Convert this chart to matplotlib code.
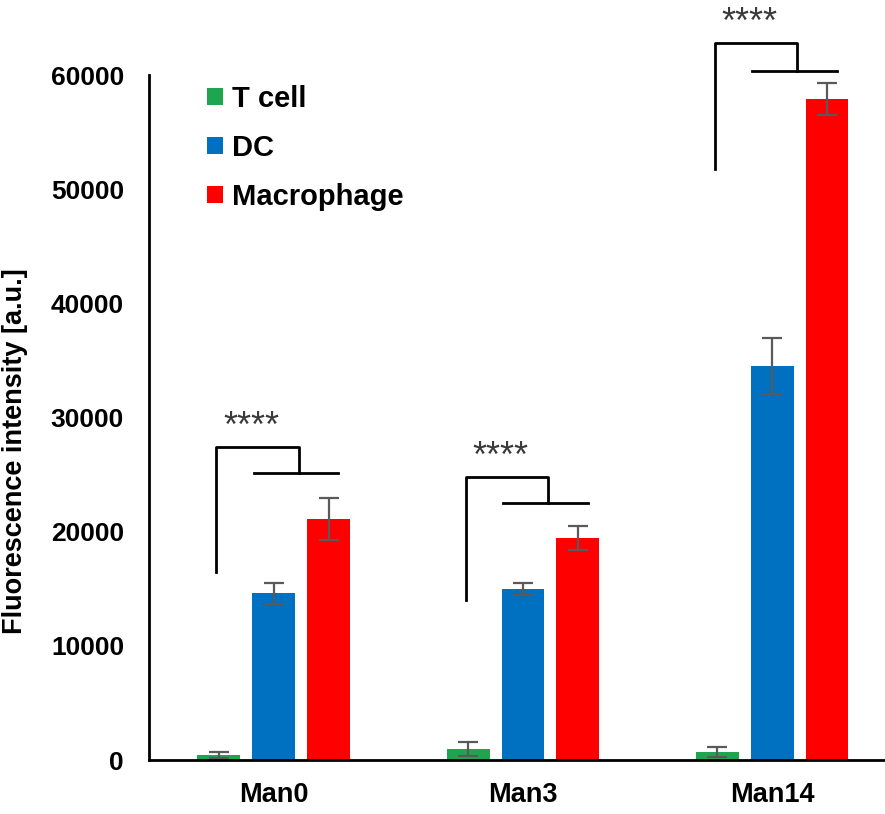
import matplotlib.pyplot as plt
import numpy as np

plt.rcParams['font.family'] = ['Liberation Sans', 'DejaVu Sans']

categories = ['Man0', 'Man3', 'Man14']
series = ['T cell', 'DC', 'Macrophage']
colors = ['#1DA64F', '#0070C0', '#FF0000']

t_cell = [440, 960, 700]
dc = [14600, 14970, 34500]
macrophage = [21100, 19450, 57900]
t_cell_err = [300, 600, 450]
dc_err = [950, 550, 2450]
macrophage_err = [1850, 1050, 1400]

# significance bracket levels per group (upper bar, left leg bottom, lower bar)
bracket_top = [27400, 24800, 62800]
bracket_leg = [16450, 14000, 51750]
bracket_low = [25100, 22500, 60350]
sig_labels = ['****', '****', '****']

values = [t_cell, dc, macrophage]
errors = [t_cell_err, dc_err, macrophage_err]

fig = plt.figure(figsize=(8.85, 8.14), dpi=100)
ax = fig.add_axes([0.1684, 0.0663, 0.845, 0.8415])

x = np.arange(len(categories))
width = 0.172
offset = 0.22

for i, (name, vals, errs, c) in enumerate(zip(series, values, errors, colors)):
    ax.bar(x + (i - 1) * offset, vals, width, color=c, label=name,
           yerr=errs, error_kw=dict(ecolor='#5a5a5a', elinewidth=1.6,
                                    capsize=7, capthick=1.6))

for i in range(len(categories)):
    xl, xr = x[i] - 0.23, x[i] + 0.10
    ax.plot([xl, xl, xr, xr], [bracket_leg[i], bracket_top[i], bracket_top[i], bracket_low[i]],
            color='black', lw=2, clip_on=False)
    ax.plot([x[i] - 0.08, x[i] + 0.26], [bracket_low[i], bracket_low[i]],
            color='black', lw=2, clip_on=False)
    ax.text(x[i] - 0.09, bracket_top[i] + 1700, sig_labels[i], ha='center', va='center',
            fontsize=26, color='#3a3a3a', clip_on=False)

ax.set_xlim(-0.5, 2.5)
ax.set_ylim(0, 60000)
ax.set_yticks(np.arange(0, 60001, 10000))
ax.set_xticks(x)
ax.set_xticklabels(categories, fontsize=19.5, fontweight='bold')
for lab in ax.get_yticklabels():
    lab.set_fontsize(19)
    lab.set_fontweight('bold')
ax.tick_params(axis='both', length=0)
ax.tick_params(axis='y', pad=18)
ax.tick_params(axis='x', pad=16)
ax.set_ylabel('Fluorescence intensity [a.u.]', fontsize=19.5, fontweight='bold')
ax.yaxis.set_label_coords(-0.162, 0.451)

for s in ['top', 'right']:
    ax.spines[s].set_visible(False)
ax.spines['left'].set_linewidth(2)
ax.spines['bottom'].set_linewidth(2)

leg = ax.legend(loc='upper left', bbox_to_anchor=(0.043, 1.024), frameon=False,
                prop=dict(size=21, weight='bold'), handlelength=0.55, handleheight=0.55,
                handletextpad=0.3, labelspacing=0.72)

fig.savefig('out.png', dpi=100)
